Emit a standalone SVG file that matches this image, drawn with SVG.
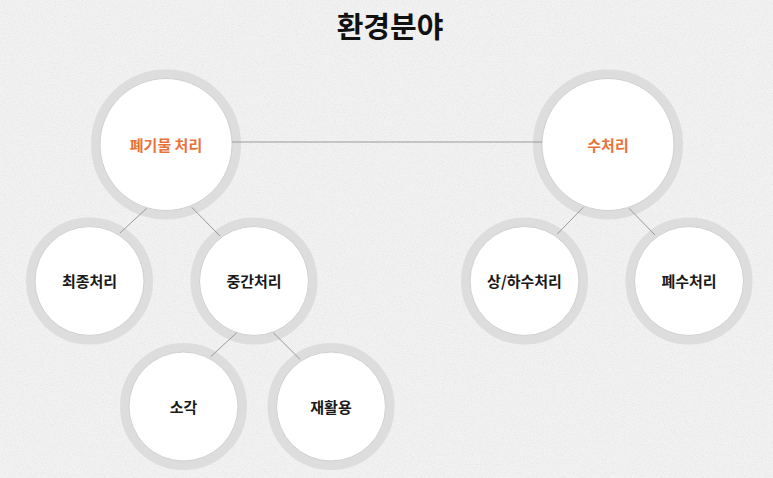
<svg xmlns="http://www.w3.org/2000/svg" width="773" height="478" viewBox="0 0 773 478">
  <defs>
    <filter id="tex" x="0" y="0" width="100%" height="100%">
      <feTurbulence type="fractalNoise" baseFrequency="0.9" numOctaves="2" seed="3" result="n"/>
      <feColorMatrix type="matrix" values="0 0 0 0 0.6  0 0 0 0 0.6  0 0 0 0 0.6  0 0 0 -1.8 1.05" in="n" result="c"/>
      <feComposite in="c" in2="SourceGraphic" operator="in"/>
    </filter>
  </defs>
  <style>
    .ring { fill: none; stroke: #dddddd; stroke-width: 9; }
    .disc { fill: #ffffff; stroke: #cfcfcf; stroke-width: 1; }
    .lbl { font-family: "Noto Sans CJK KR", "Noto Sans", sans-serif; font-size: 15px; font-weight: 700; text-anchor: middle; dominant-baseline: central; fill: #1a1a1a; }
    .lbl.main { fill: #e8733a; }
    .title { font-family: "Noto Sans CJK KR", "Noto Sans", sans-serif; font-size: 29px; font-weight: 700; text-anchor: middle; dominant-baseline: central; fill: #111111; }
    .conn { stroke: #9a9a9a; stroke-width: 1; fill: none; }
  </style>
  <rect x="0" y="0" width="773" height="478" fill="#f2f2f2"/>
  <rect x="0" y="0" width="773" height="478" fill="#f2f2f2" filter="url(#tex)" opacity="0.35"/>

  <text class="title" x="390" y="25">환경분야</text>

  <g id="node-waste">
    <circle class="ring" cx="166" cy="144.5" r="70.5"/>
    <circle class="disc" cx="166" cy="144.5" r="66"/>
    <text class="lbl main" x="166" y="144.5">폐기물 처리</text>
  </g>
  <g id="node-water">
    <circle class="ring" cx="608" cy="144.5" r="70.5"/>
    <circle class="disc" cx="608" cy="144.5" r="66"/>
    <text class="lbl main" x="608" y="144.5">수처리</text>
  </g>
  <g id="node-final">
    <circle class="ring" cx="89.5" cy="281" r="59"/>
    <circle class="disc" cx="89.5" cy="281" r="54.5"/>
    <text class="lbl" x="89.5" y="280">최종처리</text>
  </g>
  <g id="node-mid">
    <circle class="ring" cx="254" cy="281" r="59"/>
    <circle class="disc" cx="254" cy="281" r="54.5"/>
    <text class="lbl" x="254" y="280">중간처리</text>
  </g>
  <g id="node-burn">
    <circle class="ring" cx="183.5" cy="406.5" r="59"/>
    <circle class="disc" cx="183.5" cy="406.5" r="54.5"/>
    <text class="lbl" x="183.5" y="406">소각</text>
  </g>
  <g id="node-recycle">
    <circle class="ring" cx="331" cy="406.5" r="59"/>
    <circle class="disc" cx="331" cy="406.5" r="54.5"/>
    <text class="lbl" x="331" y="406">재활용</text>
  </g>
  <g id="node-sewage">
    <circle class="ring" cx="524.5" cy="281" r="59"/>
    <circle class="disc" cx="524.5" cy="281" r="54.5"/>
    <text class="lbl" x="524.5" y="280.5">상/하수처리</text>
  </g>
  <g id="node-wastewater">
    <circle class="ring" cx="689" cy="281" r="59"/>
    <circle class="disc" cx="689" cy="281" r="54.5"/>
    <text class="lbl" x="689" y="280.5">폐수처리</text>
  </g>

  <g id="connectors">
    <line class="conn" x1="232" y1="142" x2="542" y2="142"/>
    <line class="conn" x1="146.7" y1="208.3" x2="120" y2="233"/>
    <line class="conn" x1="191.7" y1="207.3" x2="220" y2="236"/>
    <line class="conn" x1="236.7" y1="332.7" x2="210.7" y2="356.7"/>
    <line class="conn" x1="273.3" y1="332.7" x2="300" y2="359.3"/>
    <line class="conn" x1="583.3" y1="207.3" x2="557.3" y2="234"/>
    <line class="conn" x1="629" y1="208.3" x2="655" y2="235"/>
  </g>
</svg>
